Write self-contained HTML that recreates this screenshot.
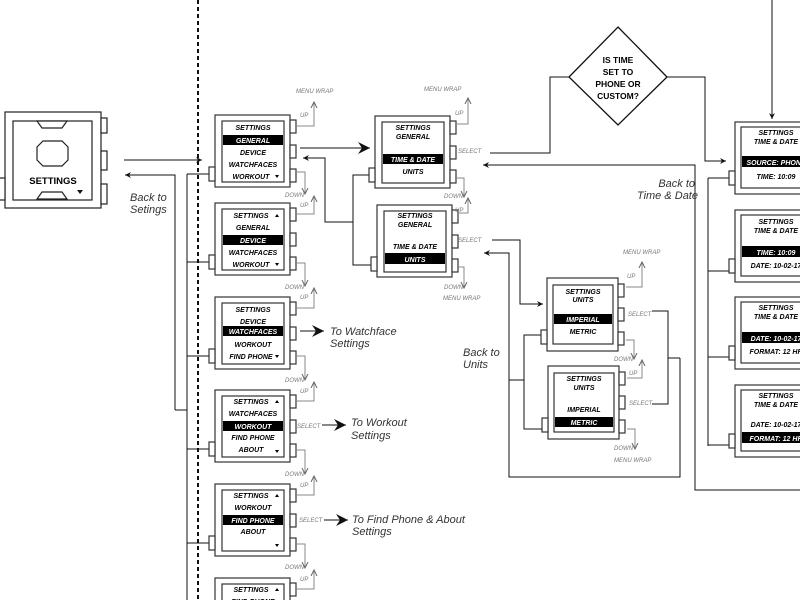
<!DOCTYPE html>
<html><head><meta charset="utf-8"><style>
html,body{margin:0;padding:0;background:#fff;width:800px;height:600px;overflow:hidden}
svg{display:block;overflow:hidden}
.t{font-family:"Liberation Sans",sans-serif;font-weight:bold;font-style:italic;font-size:7px;text-anchor:middle}
.w{fill:#fff}
.g{font-family:"Liberation Sans",sans-serif;font-style:italic;font-size:6px;fill:#777}
.n{font-family:"Liberation Sans",sans-serif;font-style:italic;font-size:11px;fill:#333}
.ln{fill:none;stroke:#111;stroke-width:1}
.gl{fill:none;stroke:#888;stroke-width:1}
</style></head><body>
<svg width="800" height="600" viewBox="0 0 800 600" xmlns="http://www.w3.org/2000/svg">
<defs>
<marker id="a" markerWidth="8" markerHeight="8" refX="6" refY="4" orient="auto" markerUnits="userSpaceOnUse"><path d="M0,1 L6,4 L0,7 L2,4 Z" fill="#111"/></marker>
<marker id="ag" markerWidth="8" markerHeight="8" refX="6" refY="4" orient="auto" markerUnits="userSpaceOnUse"><path d="M0,1 L6,4 L0,7" fill="none" stroke="#666"/></marker>
<marker id="ab" markerWidth="14" markerHeight="12" refX="12" refY="6" orient="auto" markerUnits="userSpaceOnUse"><path d="M0,0 L12,6 L0,12 L4,6 Z" fill="#111"/></marker>
<g id="dev" fill="#fff" stroke="#333" stroke-width="1.2">
<rect x="0" y="0" width="75" height="72"/><rect x="7" y="6" width="62" height="61"/>
<rect x="75" y="5" width="6" height="13"/><rect x="75" y="30" width="6" height="13"/><rect x="75" y="54" width="6" height="13"/>
<rect x="-6" y="52" width="6" height="14"/></g>
<g id="dev3" fill="#fff" stroke="#333" stroke-width="1.2">
<rect x="0" y="0" width="71" height="73"/><rect x="6" y="7" width="60" height="59"/>
<rect x="71" y="6" width="6" height="13"/><rect x="71" y="30" width="6" height="13"/><rect x="71" y="54" width="6" height="13"/>
<rect x="-6" y="52" width="6" height="14"/></g>
<g id="dev4" fill="#fff" stroke="#333" stroke-width="1.2">
<rect x="0" y="0" width="80" height="72"/><rect x="6" y="5" width="70" height="61"/>
<rect x="-6" y="49" width="6" height="14"/></g>
</defs>

<line x1="198" y1="0" x2="198" y2="600" stroke="#111" stroke-width="2" stroke-dasharray="4,3"/>

<g fill="#fff" stroke="#222" stroke-width="1.2">
<rect x="5" y="112" width="96" height="96"/><rect x="13" y="121" width="79" height="79"/>
<rect x="101" y="118" width="6" height="15"/><rect x="101" y="151" width="6" height="19"/><rect x="101" y="184" width="6" height="20"/>
<rect x="-2" y="178" width="7" height="22"/>
<path d="M37,121 L67,121 L62,128 L42,128 Z"/><path d="M42,192 L62,192 L67,199 L37,199 Z"/>
<path d="M43,141 L62,141 L68,147 L68,160 L62,166 L43,166 L37,160 L37,147 Z"/>
</g>
<text x="53" y="184" font-family="Liberation Sans,sans-serif" font-weight="bold" font-size="9.5" text-anchor="middle">SETTINGS</text>
<path d="M77,190 L83,190 L80,194 Z" fill="#111"/>
<text class="n" x="130" y="201">Back to</text><text class="n" x="130" y="213">Setings</text>

<line class="ln" x1="124" y1="160" x2="202" y2="160" marker-end="url(#a)"/>
<polyline class="ln" points="175,410 175,175 125,175" marker-end="url(#a)"/>
<line class="ln" x1="175" y1="410" x2="187" y2="410"/>
<line class="ln" x1="187" y1="174" x2="187" y2="600"/>
<g class="ln">
<line x1="187" y1="174" x2="209" y2="174"/><line x1="187" y1="262" x2="209" y2="262"/>
<line x1="187" y1="356" x2="209" y2="356"/><line x1="187" y1="449" x2="209" y2="449"/>
<line x1="187" y1="543" x2="209" y2="543"/>
</g>

<g transform="translate(215,115)"><use href="#dev"/>
<text class="t" x="38" y="15">SETTINGS</text><rect x="8" y="20" width="60" height="10"/><text class="t w" x="38" y="28">GENERAL</text>
<text class="t" x="38" y="40">DEVICE</text><text class="t" x="38" y="52">WATCHFACES</text><text class="t" x="36" y="64">WORKOUT</text><path d="M60,60 L64,60 L62,63Z"/></g>
<g transform="translate(215,203)"><use href="#dev"/>
<text class="t" x="36" y="15">SETTINGS</text><path d="M60,14 L64,14 L62,11Z"/><text class="t" x="38" y="27">GENERAL</text>
<rect x="8" y="32" width="60" height="10"/><text class="t w" x="38" y="40">DEVICE</text><text class="t" x="38" y="52">WATCHFACES</text><text class="t" x="36" y="64">WORKOUT</text><path d="M60,60 L64,60 L62,63Z"/></g>
<g transform="translate(215,297)"><use href="#dev"/>
<text class="t" x="38" y="15">SETTINGS</text><text class="t" x="38" y="27">DEVICE</text>
<rect x="8" y="29" width="60" height="10"/><text class="t w" x="38" y="37">WATCHFACES</text><text class="t" x="38" y="50">WORKOUT</text><text class="t" x="36" y="62">FIND PHONE</text><path d="M60,58 L64,58 L62,61Z"/></g>
<g transform="translate(215,390)"><use href="#dev"/>
<text class="t" x="36" y="14">SETTINGS</text><path d="M60,13 L64,13 L62,10Z"/><text class="t" x="38" y="26">WATCHFACES</text>
<rect x="8" y="31" width="60" height="10"/><text class="t w" x="38" y="39">WORKOUT</text><text class="t" x="38" y="50">FIND PHONE</text><text class="t" x="36" y="62">ABOUT</text><path d="M60,60 L64,60 L62,63Z"/></g>
<g transform="translate(215,484)"><use href="#dev"/>
<text class="t" x="36" y="14">SETTINGS</text><path d="M60,13 L64,13 L62,10Z"/><text class="t" x="38" y="26">WORKOUT</text>
<rect x="8" y="31" width="60" height="10"/><text class="t w" x="38" y="39">FIND PHONE</text><text class="t" x="38" y="50">ABOUT</text><path d="M60,60 L64,60 L62,63Z"/></g>
<g transform="translate(215,578)"><use href="#dev"/>
<text class="t" x="36" y="14">SETTINGS</text><path d="M60,13 L64,13 L62,10Z"/><text class="t" x="38" y="26">FIND PHONE</text></g>

<g class="gl">
<polyline points="297,126 314,126 314,102" marker-end="url(#ag)"/><polyline points="297,172 305,172 305,194" marker-end="url(#ag)"/>
<polyline points="297,214 314,214 314,196" marker-end="url(#ag)"/><polyline points="297,263 305,263 305,286" marker-end="url(#ag)"/>
<polyline points="297,308 314,308 314,288" marker-end="url(#ag)"/><polyline points="297,356 305,356 305,380" marker-end="url(#ag)"/>
<polyline points="297,401 314,401 314,382" marker-end="url(#ag)"/><polyline points="297,450 305,450 305,474" marker-end="url(#ag)"/>
<polyline points="297,495 314,495 314,476" marker-end="url(#ag)"/><polyline points="297,544 305,544 305,568" marker-end="url(#ag)"/>
<polyline points="297,589 314,589 314,570" marker-end="url(#ag)"/>
</g>
<text class="g" x="296" y="93">MENU WRAP</text>
<text class="g" x="300" y="117">UP</text><text class="g" x="285" y="197">DOWN</text>
<text class="g" x="300" y="207">UP</text><text class="g" x="285" y="289">DOWN</text>
<text class="g" x="300" y="299">UP</text><text class="g" x="285" y="382">DOWN</text>
<text class="g" x="300" y="393">UP</text><text class="g" x="285" y="476">DOWN</text>
<text class="g" x="300" y="487">UP</text><text class="g" x="285" y="569">DOWN</text>
<text class="g" x="300" y="581">UP</text>
<text class="g" x="297" y="428">SELECT</text><text class="g" x="299" y="522">SELECT</text>

<line class="ln" x1="300" y1="148" x2="370" y2="148" stroke-width="1.5" marker-end="url(#ab)"/>
<polyline class="ln" points="353,222 325,222 325,158 303,158" marker-end="url(#a)"/>
<line class="ln" x1="300" y1="331" x2="324" y2="331" stroke-width="1.5" marker-end="url(#ab)"/>
<text class="n" x="330" y="335">To Watchface</text><text class="n" x="330" y="347">Settings</text>
<line class="ln" x1="322" y1="425" x2="346" y2="425" stroke-width="1.5" marker-end="url(#ab)"/>
<text class="n" x="351" y="426">To Workout</text><text class="n" x="351" y="439">Settings</text>
<line class="ln" x1="324" y1="520" x2="348" y2="520" stroke-width="1.5" marker-end="url(#ab)"/>
<text class="n" x="352" y="523">To Find Phone &amp; About</text><text class="n" x="352" y="535">Settings</text>

<polyline class="ln" points="369,175 353,175 353,265 371,265"/>
<g transform="translate(375,116)"><use href="#dev"/>
<text class="t" x="38" y="14">SETTINGS</text><text class="t" x="38" y="23">GENERAL</text>
<rect x="8" y="38" width="60" height="10"/><text class="t w" x="38" y="46">TIME &amp; DATE</text><text class="t" x="38" y="58">UNITS</text></g>
<g transform="translate(377,205)"><use href="#dev"/>
<text class="t" x="38" y="13">SETTINGS</text><text class="t" x="38" y="22">GENERAL</text>
<text class="t" x="38" y="44">TIME &amp; DATE</text><rect x="8" y="48" width="60" height="11"/><text class="t w" x="38" y="57">UNITS</text></g>
<g class="gl">
<polyline points="457,124 468,124 468,98" marker-end="url(#ag)"/><polyline points="457,178 464,178 464,197" marker-end="url(#ag)"/>
<polyline points="459,213 468,213 468,198" marker-end="url(#ag)"/><polyline points="459,267 464,267 464,288" marker-end="url(#ag)"/>
</g>
<text class="g" x="424" y="91">MENU WRAP</text><text class="g" x="455" y="115">UP</text><text class="g" x="458" y="153">SELECT</text>
<text class="g" x="444" y="198">DOWN</text><text class="g" x="455" y="212">UP</text><text class="g" x="458" y="242">SELECT</text>
<text class="g" x="444" y="289">DOWN</text><text class="g" x="443" y="300">MENU WRAP</text>

<path d="M618,27 L667,77 L618,125 L569,77 Z" fill="#fff" stroke="#111" stroke-width="1.3"/>
<g font-family="Liberation Sans,sans-serif" font-weight="bold" font-size="8.5" text-anchor="middle">
<text x="618" y="63">IS TIME</text><text x="618" y="75">SET TO</text><text x="618" y="87">PHONE OR</text><text x="618" y="99">CUSTOM?</text></g>
<polyline class="ln" points="490,153 550,153 550,77 569,77"/>
<polyline class="ln" points="667,77 705,77 705,161 726,161" marker-end="url(#a)"/>
<line class="ln" x1="772" y1="0" x2="772" y2="119" marker-end="url(#a)"/>
<polyline class="ln" points="800,490 695,490 695,165 483,165" marker-end="url(#a)"/>
<text class="n" x="695" y="187" text-anchor="end">Back to</text><text class="n" x="698" y="199" text-anchor="end">Time &amp; Date</text>

<polyline class="ln" points="492,240 520,240 520,304 543,304" marker-end="url(#a)"/>
<polyline class="ln" points="680,358 680,477 509,477 509,253 484,253" marker-end="url(#a)"/>
<polyline class="ln" points="509,380 524,380"/>
<polyline class="ln" points="542,335 524,335 524,429 543,429"/>
<polyline class="ln" points="652,311 668,311 668,404 652,404"/>
<line class="ln" x1="668" y1="358" x2="680" y2="358"/>
<g transform="translate(547,278)"><use href="#dev3"/>
<text class="t" x="36" y="16">SETTINGS</text><text class="t" x="36" y="24">UNITS</text>
<rect x="7" y="36" width="58" height="10"/><text class="t w" x="36" y="44">IMPERIAL</text><text class="t" x="36" y="56">METRIC</text></g>
<g transform="translate(548,366)"><use href="#dev3"/>
<text class="t" x="36" y="15">SETTINGS</text><text class="t" x="36" y="24">UNITS</text>
<text class="t" x="36" y="46">IMPERIAL</text><rect x="7" y="51" width="58" height="10"/><text class="t w" x="36" y="59">METRIC</text></g>
<g class="gl">
<polyline points="626,287 642,287 642,262" marker-end="url(#ag)"/><polyline points="626,340 634,340 634,359" marker-end="url(#ag)"/>
<polyline points="627,378 642,378 642,360" marker-end="url(#ag)"/><polyline points="627,429 635,429 635,449" marker-end="url(#ag)"/>
</g>
<text class="g" x="623" y="254">MENU WRAP</text><text class="g" x="627" y="278">UP</text><text class="g" x="628" y="316">SELECT</text>
<text class="g" x="614" y="361">DOWN</text><text class="g" x="629" y="375">UP</text><text class="g" x="629" y="405">SELECT</text>
<text class="g" x="614" y="450">DOWN</text><text class="g" x="614" y="462">MENU WRAP</text>
<text class="n" x="463" y="356">Back to</text><text class="n" x="463" y="368">Units</text>

<line class="ln" x1="708" y1="178" x2="708" y2="446"/>
<g class="ln"><line x1="708" y1="178" x2="729" y2="178"/><line x1="708" y1="271" x2="729" y2="271"/><line x1="708" y1="357" x2="729" y2="357"/><line x1="708" y1="445" x2="729" y2="445"/></g>
<g transform="translate(735,122)"><use href="#dev4"/>
<text class="t" x="41" y="13">SETTINGS</text><text class="t" x="41" y="22">TIME &amp; DATE</text>
<rect x="7" y="34" width="68" height="11"/><text class="t w" x="41" y="43">SOURCE: PHONE</text><text class="t" x="41" y="57">TIME: 10:09</text></g>
<g transform="translate(735,210)"><use href="#dev4"/>
<text class="t" x="41" y="14">SETTINGS</text><text class="t" x="41" y="23">TIME &amp; DATE</text>
<rect x="7" y="36" width="68" height="11"/><text class="t w" x="41" y="45">TIME: 10:09</text><text class="t" x="41" y="58">DATE: 10-02-17</text></g>
<g transform="translate(735,297)"><use href="#dev4"/>
<text class="t" x="41" y="13">SETTINGS</text><text class="t" x="41" y="22">TIME &amp; DATE</text>
<rect x="7" y="35" width="68" height="11"/><text class="t w" x="41" y="44">DATE: 10-02-17</text><text class="t" x="41" y="57">FORMAT: 12 HR</text></g>
<g transform="translate(735,385)"><use href="#dev4"/>
<text class="t" x="41" y="13">SETTINGS</text><text class="t" x="41" y="22">TIME &amp; DATE</text>
<text class="t" x="41" y="42">DATE: 10-02-17</text><rect x="7" y="47" width="68" height="11"/><text class="t w" x="41" y="56">FORMAT: 12 HR</text></g>
</svg>
</body></html>
